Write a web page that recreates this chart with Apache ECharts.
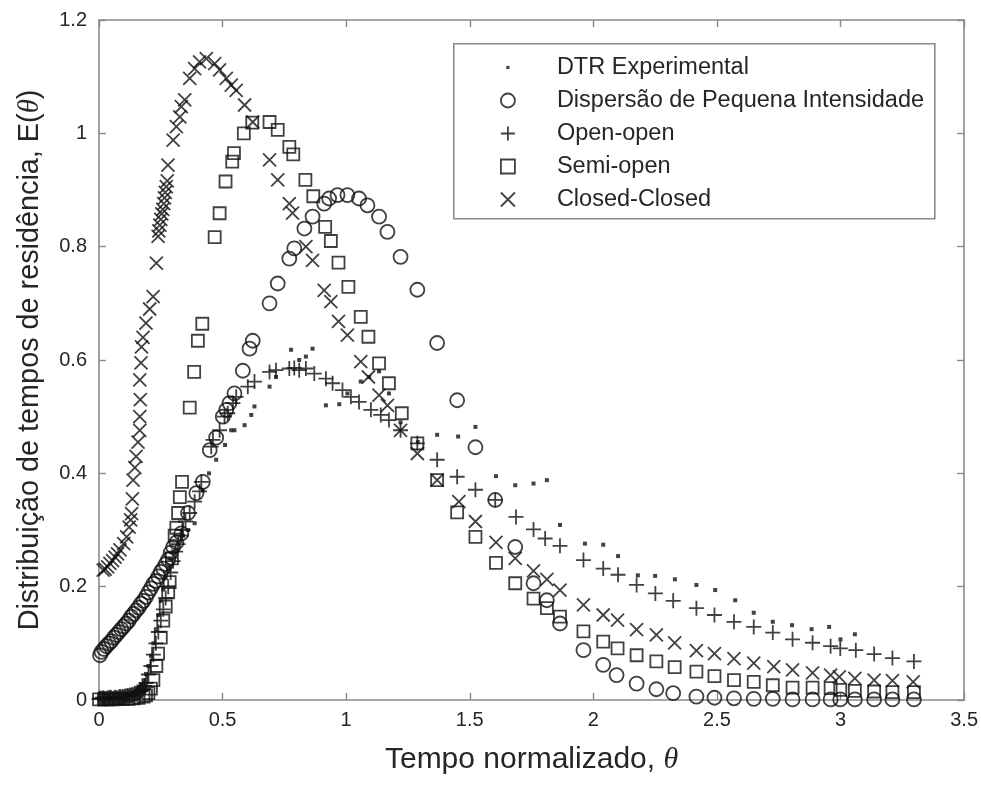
<!DOCTYPE html>
<html><head><meta charset="utf-8">
<script src="https://cdn.jsdelivr.net/npm/echarts@6/dist/echarts.min.js"></script>
<style>html,body{margin:0;padding:0;background:#fff}#c{width:981px;height:785px}</style>
</head><body><div id="c"></div>
<script>
// ---- axis ticks ----
const xTicks = [0, 0.5, 1, 1.5, 2, 2.5, 3, 3.5];
const yTicks = [0, 0.2, 0.4, 0.6, 0.8, 1, 1.2];

// ---- series: [theta, E(theta)] ----
const dtrExperimental = [
  [0,0.003],[0.01,0.002],[0.02,0.004],[0.03,0.002],[0.04,0.005],[0.05,0.003],[0.06,0.006],[0.07,0.004],
  [0.08,0.007],[0.09,0.005],[0.10,0.008],[0.11,0.006],[0.12,0.009],[0.13,0.010],[0.14,0.012],[0.15,0.016],
  [0.16,0.020],[0.17,0.027],[0.18,0.035],[0.19,0.046],[0.20,0.060],[0.21,0.078],[0.22,0.100],[0.23,0.125],
  [0.24,0.150],[0.25,0.175],[0.26,0.195],[0.27,0.215],[0.28,0.232],[0.29,0.250],[0.30,0.262],[0.32,0.275],
  [0.34,0.290],[0.36,0.300],[0.387,0.312],[0.42,0.370],[0.445,0.400],[0.474,0.424],[0.51,0.450],[0.535,0.476],
  [0.548,0.476],[0.589,0.485],[0.616,0.503],[0.629,0.518],[0.69,0.553],[0.716,0.570],[0.777,0.618],[0.81,0.600],
  [0.837,0.606],[0.864,0.620],[0.918,0.520],[0.972,0.522],[1.005,0.541],[1.059,0.562],[1.093,0.570],[1.133,0.580],
  [1.173,0.541],[1.22,0.490],[1.29,0.455],[1.368,0.468],[1.453,0.465],[1.523,0.482],[1.606,0.395],[1.684,0.379],
  [1.758,0.382],[1.812,0.388],[1.865,0.309],[1.966,0.276],[2.04,0.274],[2.10,0.254],[2.18,0.220],[2.25,0.219],
  [2.33,0.213],[2.417,0.203],[2.493,0.194],[2.574,0.176],[2.649,0.154],[2.726,0.138],[2.804,0.132],[2.883,0.125],
  [2.954,0.129],[3.0,0.107],[3.058,0.116]
];
const dispersaoPequena = [
  [0.004,0.079],[0.01,0.085],[0.02,0.090],[0.03,0.095],[0.04,0.100],[0.05,0.104],[0.06,0.110],[0.07,0.115],
  [0.08,0.120],[0.09,0.125],[0.10,0.130],[0.11,0.135],[0.12,0.140],[0.13,0.147],[0.14,0.152],[0.15,0.158],
  [0.16,0.163],[0.17,0.170],[0.18,0.175],[0.19,0.182],[0.20,0.190],[0.21,0.197],[0.22,0.205],[0.23,0.210],
  [0.24,0.218],[0.25,0.226],[0.26,0.232],[0.27,0.240],[0.28,0.248],[0.29,0.260],[0.30,0.270],[0.313,0.278],
  [0.333,0.294],[0.36,0.330],[0.394,0.365],[0.42,0.385],[0.448,0.441],[0.474,0.463],[0.501,0.500],[0.515,0.512],
  [0.528,0.524],[0.548,0.541],[0.582,0.581],[0.609,0.620],[0.622,0.634],[0.69,0.700],[0.723,0.735],[0.77,0.779],
  [0.79,0.797],[0.831,0.832],[0.864,0.853],[0.911,0.876],[0.931,0.885],[0.965,0.891],[1.005,0.891],[1.052,0.885],
  [1.086,0.873],[1.133,0.853],[1.167,0.826],[1.22,0.782],[1.288,0.724],[1.368,0.630],[1.449,0.529],[1.523,0.446],
  [1.603,0.353],[1.684,0.270],[1.758,0.206],[1.812,0.176],[1.865,0.135],[1.96,0.088],[2.04,0.062],[2.094,0.044],
  [2.175,0.029],[2.255,0.019],[2.323,0.012],[2.417,0.006],[2.49,0.004],[2.569,0.003],[2.649,0.002],[2.726,0.002],
  [2.806,0.001],[2.887,0.001],[2.96,0.001],[2.999,0.001],[3.058,0.001],[3.136,0.001],[3.21,0.001],[3.297,0.001]
];
const openOpen = [
  [0,0.002],[0.005,0.003],[0.01,0.002],[0.015,0.004],[0.02,0.003],[0.025,0.002],[0.03,0.002],[0.035,0.004],
  [0.04,0.003],[0.045,0.005],[0.05,0.004],[0.055,0.002],[0.06,0.003],[0.065,0.005],[0.07,0.004],[0.075,0.003],
  [0.08,0.005],[0.085,0.006],[0.09,0.004],[0.095,0.006],[0.10,0.005],[0.105,0.007],[0.11,0.006],[0.115,0.008],
  [0.12,0.007],[0.125,0.009],[0.13,0.008],[0.135,0.010],[0.14,0.009],[0.145,0.012],[0.15,0.011],[0.155,0.014],
  [0.16,0.013],[0.165,0.015],[0.17,0.016],[0.175,0.018],[0.18,0.020],[0.185,0.025],
  [0.19,0.030],[0.20,0.045],[0.21,0.060],[0.22,0.080],[0.23,0.100],
  [0.24,0.120],[0.25,0.140],[0.26,0.160],[0.27,0.180],[0.28,0.200],[0.29,0.225],[0.30,0.245],[0.31,0.262],
  [0.32,0.275],[0.333,0.290],[0.34,0.300],[0.35,0.315],[0.367,0.330],[0.387,0.350],[0.407,0.368],[0.414,0.385],
  [0.454,0.447],[0.461,0.459],[0.488,0.476],[0.508,0.500],[0.521,0.506],[0.542,0.524],[0.555,0.535],[0.602,0.553],
  [0.629,0.562],[0.69,0.579],[0.716,0.582],[0.77,0.585],[0.79,0.586],[0.81,0.582],[0.837,0.585],[0.871,0.576],
  [0.918,0.567],[0.945,0.559],[0.985,0.547],[1.019,0.535],[1.052,0.526],[1.10,0.512],[1.14,0.503],[1.173,0.494],
  [1.22,0.476],[1.288,0.453],[1.368,0.424],[1.449,0.394],[1.523,0.371],[1.603,0.353],[1.687,0.323],[1.758,0.301],
  [1.805,0.285],[1.865,0.272],[1.96,0.247],[2.04,0.232],[2.10,0.221],[2.175,0.203],[2.251,0.188],[2.323,0.175],
  [2.417,0.162],[2.49,0.150],[2.569,0.138],[2.649,0.129],[2.726,0.119],[2.806,0.107],[2.887,0.101],[2.96,0.095],
  [2.999,0.091],[3.062,0.088],[3.136,0.081],[3.21,0.074],[3.297,0.068]
];
const semiOpen = [
  [0,0.001],[0.02,0.001],[0.04,0.001],[0.06,0.001],[0.08,0.002],[0.10,0.002],[0.12,0.002],[0.14,0.003],
  [0.16,0.004],[0.18,0.006],[0.19,0.008],[0.20,0.012],[0.21,0.020],[0.22,0.035],[0.232,0.060],[0.239,0.082],
  [0.25,0.110],[0.26,0.140],[0.27,0.165],[0.28,0.190],[0.286,0.208],[0.295,0.250],[0.306,0.290],[0.313,0.304],
  [0.32,0.330],[0.327,0.358],[0.336,0.385],[0.367,0.516],[0.385,0.579],[0.40,0.634],[0.418,0.664],[0.468,0.817],
  [0.488,0.859],[0.512,0.915],[0.539,0.950],[0.546,0.965],[0.586,1.000],[0.62,1.019],[0.69,1.020],[0.723,1.006],
  [0.77,0.976],[0.786,0.963],[0.835,0.918],[0.867,0.889],[0.915,0.835],[0.938,0.810],[0.969,0.772],[1.009,0.729],
  [1.059,0.676],[1.09,0.641],[1.133,0.594],[1.173,0.559],[1.225,0.506],[1.288,0.453],[1.368,0.388],[1.449,0.331],
  [1.523,0.288],[1.606,0.242],[1.684,0.206],[1.758,0.179],[1.812,0.162],[1.865,0.147],[1.96,0.121],[2.04,0.103],
  [2.098,0.091],[2.175,0.079],[2.255,0.068],[2.329,0.058],[2.417,0.050],[2.49,0.042],[2.569,0.035],[2.649,0.032],
  [2.726,0.026],[2.806,0.022],[2.887,0.022],[2.96,0.021],[2.999,0.018],[3.058,0.016],[3.136,0.015],[3.21,0.014],
  [3.297,0.014]
];
const closedClosed = [
  [0.017,0.229],[0.025,0.231],[0.035,0.235],[0.044,0.241],[0.055,0.246],[0.065,0.252],[0.075,0.258],[0.085,0.265],
  [0.10,0.276],[0.112,0.288],[0.122,0.305],[0.128,0.318],[0.132,0.329],[0.135,0.355],[0.138,0.388],[0.145,0.410],
  [0.150,0.430],[0.158,0.455],[0.165,0.476],[0.165,0.500],[0.167,0.530],[0.165,0.565],[0.170,0.595],[0.172,0.623],
  [0.178,0.640],[0.19,0.665],[0.205,0.690],[0.219,0.712],[0.232,0.771],[0.239,0.818],[0.242,0.828],[0.246,0.838],
  [0.250,0.848],[0.254,0.858],[0.258,0.866],[0.262,0.876],[0.265,0.886],[0.268,0.896],[0.272,0.906],[0.276,0.916],
  [0.279,0.944],[0.30,0.988],[0.313,1.012],[0.327,1.029],[0.333,1.047],[0.347,1.059],[0.367,1.097],[0.387,1.114],
  [0.407,1.126],[0.434,1.132],[0.468,1.123],[0.488,1.112],[0.515,1.097],[0.535,1.085],[0.555,1.076],[0.589,1.050],
  [0.622,1.020],[0.69,0.953],[0.723,0.918],[0.77,0.876],[0.783,0.859],[0.837,0.800],[0.864,0.776],[0.911,0.723],
  [0.938,0.703],[0.969,0.668],[1.005,0.644],[1.059,0.597],[1.09,0.570],[1.133,0.538],[1.167,0.520],[1.22,0.476],
  [1.288,0.435],[1.368,0.388],[1.456,0.350],[1.523,0.315],[1.606,0.278],[1.684,0.250],[1.758,0.228],[1.812,0.213],
  [1.865,0.194],[1.96,0.168],[2.04,0.150],[2.098,0.141],[2.175,0.124],[2.255,0.115],[2.329,0.101],[2.417,0.087],
  [2.49,0.082],[2.569,0.073],[2.649,0.065],[2.73,0.059],[2.806,0.053],[2.887,0.048],[2.96,0.044],[2.995,0.041],
  [3.058,0.038],[3.136,0.035],[3.21,0.034],[3.294,0.032]
];
const seriesNames = ['DTR Experimental', 'Dispersão de Pequena Intensidade', 'Open-open', 'Semi-open', 'Closed-Closed'];

const INK = '#111111';
const AXIS = '#8a8a8a';
const FONT = '"Liberation Sans", Arial, sans-serif';
const PLUS = 'path://M7,0V14M0,7H14';
const CROSS = 'path://M0,0L14,14M14,0L0,14';
const DOT_ICON = 'path://M0,0M16,16M6.2,6.2h3.6v3.6h-3.6z';
const strokeStyle = {color: 'transparent', borderColor: INK, borderWidth: 1.8};

const chart = echarts.init(document.getElementById('c'), null, {renderer: 'canvas'});
const axisCommon = {
  min: 0, axisLine: {show: true, onZero: false, lineStyle: {color: AXIS, width: 1.6}},
  axisTick: {show: true, inside: true, length: 7, lineStyle: {color: AXIS, width: 1.4}},
  splitLine: {show: false}
};
function nameStyle(size) {
  return {color: '#262626', fontSize: size, fontFamily: FONT,
    rich: {i: {fontStyle: 'italic', fontFamily: '"Liberation Serif", serif', fontSize: size, color: '#262626'}}};
}
chart.setOption({
  animation: false,
  backgroundColor: '#fff',
  grid: {left: 99, top: 20, right: 13, bottom: 85, containLabel: false},
  xAxis: [
    Object.assign({}, axisCommon, {type: 'value', position: 'bottom', max: xTicks[xTicks.length-1], interval: 0.5,
      axisLabel: {color: '#262626', fontSize: 20, fontFamily: FONT, margin: 10},
      name: 'Tempo normalizado, {i|θ}', nameLocation: 'middle', nameGap: 45, nameTextStyle: nameStyle(30)}),
    Object.assign({}, axisCommon, {type: 'value', position: 'top', max: xTicks[xTicks.length-1], interval: 0.5,
      axisLabel: {show: false}})
  ],
  yAxis: [
    Object.assign({}, axisCommon, {type: 'value', position: 'left', max: yTicks[yTicks.length-1], interval: 0.2,
      axisLabel: {color: '#262626', fontSize: 20, fontFamily: FONT, margin: 12},
      name: 'Distribuição de tempos de residência, E({i|θ})', nameLocation: 'middle', nameGap: 54,
      nameTextStyle: nameStyle(28.8)}),
    Object.assign({}, axisCommon, {type: 'value', position: 'right', max: yTicks[yTicks.length-1], interval: 0.2,
      axisLabel: {show: false}})
  ],
  legend: {
    orient: 'vertical', left: 500, top: 55.5, padding: 0, itemWidth: 14, itemHeight: 14, itemGap: 9,
    textStyle: {color: '#262626', fontSize: 23.5, fontFamily: FONT, lineHeight: 22, padding: [0, 0, 0, 37]},
    data: [
      {name: seriesNames[0], icon: DOT_ICON, itemStyle: {color: INK, borderWidth: 0}},
      {name: seriesNames[1], icon: 'circle', itemStyle: strokeStyle},
      {name: seriesNames[2], icon: PLUS, itemStyle: strokeStyle},
      {name: seriesNames[3], icon: 'rect', itemStyle: strokeStyle},
      {name: seriesNames[4], icon: CROSS, itemStyle: strokeStyle}
    ]
  },
  graphic: [{type: 'rect', left: 453, top: 43, shape: {width: 481, height: 175},
    style: {fill: 'transparent', stroke: AXIS, lineWidth: 1.6}, z: 100, silent: true}],
  series: [
    {name: seriesNames[0], type: 'scatter', data: dtrExperimental, symbol: 'rect', symbolSize: 4,
      itemStyle: {color: INK}},
    {name: seriesNames[1], type: 'scatter', data: dispersaoPequena, symbol: 'circle', symbolSize: 14,
      itemStyle: strokeStyle},
    {name: seriesNames[2], type: 'scatter', data: openOpen, symbol: PLUS, symbolSize: 15,
      itemStyle: strokeStyle},
    {name: seriesNames[3], type: 'scatter', data: semiOpen, symbol: 'rect', symbolSize: 12,
      itemStyle: strokeStyle},
    {name: seriesNames[4], type: 'scatter', data: closedClosed, symbol: CROSS, symbolSize: 13,
      itemStyle: strokeStyle}
  ]
});
</script></body></html>
